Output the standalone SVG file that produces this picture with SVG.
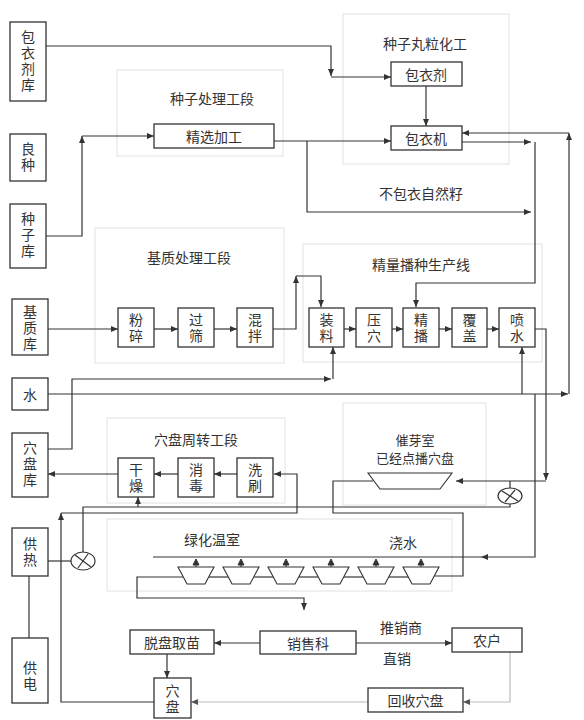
<svg xmlns="http://www.w3.org/2000/svg" width="584" height="720" viewBox="0 0 584 720">
<defs>
<marker id="a" markerUnits="userSpaceOnUse" markerWidth="8" markerHeight="7" refX="7" refY="3" orient="auto"><path d="M0,0 L7,3 L0,6 z" fill="#333"/></marker>
<marker id="g" markerUnits="userSpaceOnUse" markerWidth="8" markerHeight="7" refX="7" refY="3" orient="auto"><path d="M0,0 L7,3 L0,6 z" fill="#555"/></marker>
<style>
text{font-family:"Noto Sans CJK SC","Noto Sans",sans-serif;font-size:14px;fill:#333;text-anchor:middle;dominant-baseline:central}
text.v{writing-mode:vertical-rl;text-orientation:upright;letter-spacing:2px;dominant-baseline:auto}
.grp{fill:none;stroke:#e2e2e2;stroke-width:1}
.box{fill:#fff;stroke:#333;stroke-width:1.3}
.ln{fill:none;stroke:#333;stroke-width:1.2}
.lg{fill:none;stroke:#bbb;stroke-width:1.2}
.pot{fill:#fff;stroke:#333;stroke-width:1.1}
</style>
</defs>
<rect width="584" height="720" fill="#fff"/>

<g id="groups">
<rect class="grp" x="343" y="14" width="166" height="150"/>
<text x="425" y="43">种子丸粒化工</text>
<rect class="grp" x="117" y="70" width="166" height="86"/>
<text x="212" y="98">种子处理工段</text>
<rect class="grp" x="95" y="228" width="189" height="135"/>
<text x="189" y="257">基质处理工段</text>
<rect class="grp" x="303" y="244" width="239" height="118"/>
<text x="421" y="264">精量播种生产线</text>
<rect class="grp" x="107" y="418" width="178" height="85"/>
<text x="196" y="439">穴盘周转工段</text>
<rect class="grp" x="343" y="403" width="143" height="102"/>
<text x="415" y="439" style="font-size:13px">催芽室</text>
<text x="415" y="457" style="font-size:13px">已经点播穴盘</text>
<rect class="grp" x="107" y="519" width="345" height="72"/>
<text x="212" y="539">绿化温室</text>
<text x="403" y="542">浇水</text>
</g>

<g id="connectors">
<polyline class="ln" points="46,46 331,46 331,76" marker-end="url(#a)"/>
<line class="ln" x1="331" y1="77" x2="391" y2="77" marker-end="url(#a)"/>
<line class="ln" x1="426" y1="86" x2="426" y2="126" marker-end="url(#a)"/>
<polyline class="ln" points="46,236 82,236 82,136" marker-end="url(#a)"/>
<line class="ln" x1="82" y1="136" x2="154" y2="136" marker-end="url(#a)"/>
<line class="ln" x1="274" y1="141" x2="391" y2="141" marker-end="url(#a)"/>
<polyline class="ln" points="307,141 307,212 531,212" marker-end="url(#a)"/>
<line class="ln" x1="462" y1="142" x2="531" y2="142" marker-end="url(#a)"/>
<polyline class="ln" points="535,142 535,283 416,283 416,307" marker-end="url(#a)"/>
<line class="ln" x1="48" y1="394" x2="568" y2="394" marker-end="url(#a)"/>
<line class="ln" x1="569" y1="394" x2="569" y2="133" marker-end="url(#a)"/>
<line class="ln" x1="569" y1="133" x2="462" y2="133" marker-end="url(#a)"/>
<line class="ln" x1="522" y1="394" x2="522" y2="347" marker-end="url(#a)"/>
<polyline class="ln" points="535,394 535,557 481,557" marker-end="url(#a)"/>
<line class="ln" x1="481" y1="557" x2="153" y2="557"/>
<line class="ln" x1="48" y1="329" x2="118" y2="329" marker-end="url(#a)"/>
<line class="ln" x1="154" y1="329" x2="178" y2="329" marker-end="url(#a)"/>
<line class="ln" x1="214" y1="329" x2="237" y2="329" marker-end="url(#a)"/>
<polyline class="ln" points="273,329 296,329 296,276" marker-end="url(#a)"/>
<polyline class="ln" points="296,276 321,276 321,307" marker-end="url(#a)"/>
<line class="ln" x1="344" y1="329" x2="356" y2="329" marker-end="url(#a)"/>
<line class="ln" x1="392" y1="329" x2="403" y2="329" marker-end="url(#a)"/>
<line class="ln" x1="439" y1="329" x2="452" y2="329" marker-end="url(#a)"/>
<line class="ln" x1="487" y1="329" x2="499" y2="329" marker-end="url(#a)"/>
<polyline class="ln" points="48,449 72,449 72,379 331,379" marker-end="url(#a)"/>
<line class="ln" x1="333" y1="379" x2="333" y2="347" marker-end="url(#a)"/>
<polyline class="ln" points="535,329 546,329 546,480" marker-end="url(#a)"/>
<line class="ln" x1="546" y1="481" x2="456" y2="481" marker-end="url(#a)"/>
<line class="ln" x1="48" y1="561" x2="71" y2="561"/>
<ellipse class="ln" cx="83" cy="561" rx="12" ry="9"/>
<line class="ln" x1="75" y1="555" x2="91" y2="567"/>
<line class="ln" x1="88" y1="554" x2="78" y2="568"/>
<polyline class="ln" points="83,552 83,507 510,507 510,504"/>
<ellipse class="ln" cx="510" cy="496" rx="12" ry="8"/>
<line class="ln" x1="502" y1="491" x2="518" y2="501"/>
<line class="ln" x1="515" y1="490" x2="505" y2="502"/>
<line class="ln" x1="510" y1="488" x2="510" y2="481"/>
<line class="ln" x1="138" y1="507" x2="138" y2="497" marker-end="url(#a)"/>
<polyline class="ln" points="154,702 61,702 61,513" marker-end="url(#a)"/>
<polyline class="ln" points="61,513 297,513 297,474 274,474" marker-end="url(#a)"/>
<line class="ln" x1="237" y1="474" x2="214" y2="474" marker-end="url(#a)"/>
<line class="ln" x1="178" y1="474" x2="154" y2="474" marker-end="url(#a)"/>
<line class="ln" x1="118" y1="474" x2="48" y2="474" marker-end="url(#a)"/>
<polyline class="ln" points="373,481 333,481 333,513 463,513 463,576 434,576"/>
<polyline class="ln" points="183,577 137,577 137,598 304,598 304,610" marker-end="url(#a)"/>
<line class="ln" x1="209" y1="577" x2="228" y2="577"/>
<line class="ln" x1="254" y1="577" x2="273" y2="577"/>
<line class="ln" x1="299" y1="577" x2="318" y2="577"/>
<line class="ln" x1="344" y1="577" x2="363" y2="577"/>
<line class="ln" x1="389" y1="577" x2="408" y2="577"/>
<line class="ln" x1="260" y1="643" x2="214" y2="643" marker-end="url(#a)"/>
<line class="ln" x1="356" y1="643" x2="452" y2="643" marker-end="url(#a)"/>
<line class="ln" x1="167" y1="654" x2="167" y2="678" marker-end="url(#a)"/>
<polyline class="lg" points="510,652 510,702 463,702" marker-end="url(#g)"/>
<line class="lg" x1="368" y1="702" x2="191" y2="702" marker-end="url(#g)"/>
<line class="ln" x1="29" y1="576" x2="29" y2="638"/>
</g>

<g id="pots">
<path class="pot" d="M178,567 L214,567 L205,584 L187,584 Z"/>
<path class="pot" d="M223,567 L259,567 L250,584 L232,584 Z"/>
<path class="pot" d="M268,567 L304,567 L295,584 L277,584 Z"/>
<path class="pot" d="M313,567 L349,567 L340,584 L322,584 Z"/>
<path class="pot" d="M358,567 L394,567 L385,584 L367,584 Z"/>
<path class="pot" d="M403,567 L439,567 L430,584 L412,584 Z"/>
<path class="pot" d="M368,473 L452,473 L440,489 L380,489 Z"/>
<g fill="#333" stroke="#333" stroke-width="1">
<path d="M193,565 L196,559 L199,565 Z M196,565 V567"/>
<path d="M238,565 L241,559 L244,565 Z M241,565 V567"/>
<path d="M283,565 L286,559 L289,565 Z M286,565 V567"/>
<path d="M328,565 L331,559 L334,565 Z M331,565 V567"/>
<path d="M373,565 L376,559 L379,565 Z M376,565 V567"/>
<path d="M418,565 L421,559 L424,565 Z M421,565 V567"/>
</g>
</g>

<g id="n-baoyijiku"><rect class="box" x="10" y="22" width="36" height="79"/><text class="v" x="28" y="62">包衣剂库</text></g>
<g id="n-liangzhong"><rect class="box" x="10" y="134" width="36" height="47"/><text class="v" x="28" y="158">良种</text></g>
<g id="n-zhongziku"><rect class="box" x="10" y="204" width="36" height="64"/><text class="v" x="28" y="236">种子库</text></g>
<g id="n-jizhiku"><rect class="box" x="12" y="299" width="36" height="56"/><text class="v" x="30" y="329">基质库</text></g>
<g id="n-shui"><rect class="box" x="12" y="378" width="36" height="32"/><text x="30" y="394">水</text></g>
<g id="n-xuepanku"><rect class="box" x="12" y="433" width="36" height="64"/><text class="v" x="30" y="465">穴盘库</text></g>
<g id="n-gongre"><rect class="box" x="12" y="528" width="36" height="48"/><text class="v" x="30" y="553">供热</text></g>
<g id="n-gongdian"><rect class="box" x="12" y="638" width="36" height="65"/><text class="v" x="30" y="677">供电</text></g>

<g id="n-baoyiji-agent"><rect class="box" x="391" y="62" width="71" height="24"/><text x="426" y="74">包衣剂</text></g>
<g id="n-baoyiji"><rect class="box" x="391" y="126" width="71" height="24"/><text x="426" y="138">包衣机</text></g>
<g id="n-jingxuan"><rect class="box" x="154" y="124" width="120" height="24"/><text x="214" y="136">精选加工</text></g>

<g id="n-fensui"><rect class="box" x="118" y="308" width="36" height="39"/><text class="v" x="136" y="329">粉碎</text></g>
<g id="n-guoshai"><rect class="box" x="178" y="308" width="36" height="39"/><text class="v" x="196" y="329">过筛</text></g>
<g id="n-hunban"><rect class="box" x="237" y="308" width="36" height="39"/><text class="v" x="255" y="329">混拌</text></g>

<g id="n-zhuangliao"><rect class="box" x="309" y="308" width="35" height="39"/><text class="v" x="326.5" y="329">装料</text></g>
<g id="n-yaxue"><rect class="box" x="356" y="308" width="36" height="39"/><text class="v" x="374" y="329">压穴</text></g>
<g id="n-jingbo"><rect class="box" x="403" y="308" width="36" height="39"/><text class="v" x="421" y="329">精播</text></g>
<g id="n-fugai"><rect class="box" x="452" y="308" width="35" height="39"/><text class="v" x="469.5" y="329">覆盖</text></g>
<g id="n-penshui"><rect class="box" x="499" y="308" width="36" height="39"/><text class="v" x="517" y="329">喷水</text></g>

<g id="n-ganzao"><rect class="box" x="118" y="458" width="36" height="39"/><text class="v" x="136" y="479">干燥</text></g>
<g id="n-xiaodu"><rect class="box" x="178" y="458" width="36" height="39"/><text class="v" x="196" y="479">消毒</text></g>
<g id="n-xishua"><rect class="box" x="237" y="458" width="36" height="39"/><text class="v" x="255" y="479">洗刷</text></g>

<g id="n-tuopan"><rect class="box" x="130" y="630" width="84" height="24"/><text x="172" y="642">脱盘取苗</text></g>
<g id="n-xiaoshou"><rect class="box" x="260" y="631" width="96" height="23"/><text x="308" y="643">销售科</text></g>
<g id="n-nonghu"><rect class="box" x="452" y="628" width="70" height="24"/><text x="487" y="640">农户</text></g>
<g id="n-huishou"><rect class="box" x="368" y="688" width="95" height="24"/><text x="415.5" y="700">回收穴盘</text></g>
<g id="n-xuepan"><rect class="box" x="154" y="678" width="37" height="40"/><text class="v" x="172.5" y="700">穴盘</text></g>

<g id="labels">
<text x="421" y="193">不包衣自然籽</text>
<text x="401" y="627">推销商</text>
<text x="397" y="658">直销</text>
</g>
</svg>
